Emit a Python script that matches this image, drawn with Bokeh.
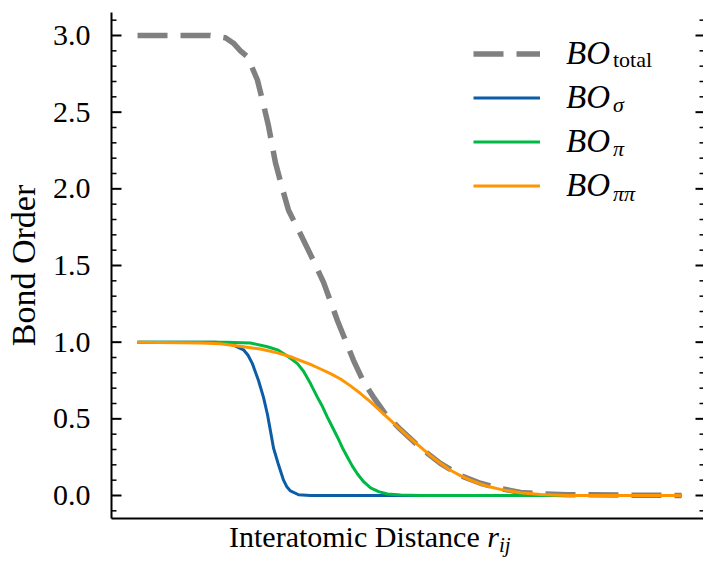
from bokeh.plotting import figure
from bokeh.models import (Range1d, FixedTicker, PrintfTickFormatter,
                          Legend, LegendItem, Label, Div)
from bokeh.layouts import column
from bokeh.embed import file_html
from bokeh.resources import INLINE

# ---- data ----
total_r = [0.500, 0.835, 0.904, 0.941, 0.973, 1.006, 1.051, 1.079, 1.102, 1.134, 1.166,
           1.194, 1.226, 1.263, 1.309, 1.355, 1.387, 1.419, 1.456, 1.493, 1.539, 1.585,
           1.640, 1.709, 1.801, 1.892, 1.984, 2.076, 2.168, 2.260, 2.352, 2.476, 3.000]
bo_total = [3.0, 3.0, 2.985, 2.95, 2.90, 2.86, 2.71, 2.55, 2.41, 2.17, 2.00,
            1.86, 1.77, 1.665, 1.53, 1.39, 1.265, 1.14, 1.01, 0.88, 0.74, 0.64,
            0.53, 0.43, 0.31, 0.21, 0.13, 0.08, 0.045, 0.02, 0.01, 0.005, 0.0]

sigma_r = [0.500, 0.858, 0.904, 0.941, 0.987, 1.008, 1.028, 1.056, 1.079, 1.097, 1.111,
           1.125, 1.148, 1.171, 1.187, 1.203, 1.240, 1.295, 3.000]
bo_sigma = [1.0, 1.0, 0.995, 0.98, 0.95, 0.915, 0.86, 0.75, 0.64, 0.53, 0.42,
            0.31, 0.20, 0.10, 0.055, 0.03, 0.005, 0.0, 0.0]

pi_r = [0.500, 0.904, 1.019, 1.097, 1.143, 1.189, 1.235, 1.263, 1.295, 1.327, 1.350,
        1.373, 1.396, 1.419, 1.442, 1.465, 1.488, 1.511, 1.539, 1.571, 1.608, 1.649,
        1.709, 1.801, 3.000]
bo_pi = [1.0, 1.0, 0.995, 0.97, 0.95, 0.91, 0.86, 0.81, 0.73, 0.64, 0.58,
         0.51, 0.445, 0.38, 0.31, 0.25, 0.19, 0.14, 0.09, 0.05, 0.025, 0.01,
         0.004, 0.0, 0.0]

pipi_r = [0.500, 0.790, 0.881, 0.987, 1.065, 1.143, 1.203, 1.249, 1.295, 1.341, 1.387,
          1.433, 1.479, 1.525, 1.571, 1.617, 1.663, 1.709, 1.755, 1.801, 1.846, 1.892,
          1.938, 1.984, 2.030, 2.076, 2.122, 2.168, 2.260, 2.352, 2.476, 3.000]
bo_pipi = [1.0, 0.995, 0.99, 0.97, 0.955, 0.93, 0.905, 0.88, 0.855, 0.825, 0.795,
           0.76, 0.715, 0.665, 0.61, 0.55, 0.49, 0.43, 0.37, 0.315, 0.26, 0.21,
           0.165, 0.13, 0.10, 0.075, 0.055, 0.04, 0.018, 0.007, 0.0, 0.0]

y_major = [0.0, 0.5, 1.0, 1.5, 2.0, 2.5, 3.0]
y_minor = [round(-0.1 + 0.1 * i, 1) for i in range(33)]

legend_subs = ["total", "σ", "π", "ππ"]

FONT = "Liberation Serif"
GRAY, BLUE, GREEN, ORANGE = "#808080", "#0C5DA5", "#00B945", "#FF9500"

XMIN, XMAX = 0.3805, 3.101
YMIN, YMAX = -0.15, 3.15
FRAME_W = 592
PX = (XMAX - XMIN) / FRAME_W          # data units per screen pixel (x)

p = figure(width=703, height=522, x_range=Range1d(XMIN, XMAX),
           y_range=Range1d(YMIN, YMAX), output_backend="svg", toolbar_location=None,
           min_border_left=111, min_border_right=0, min_border_top=12,
           min_border_bottom=4, margin=0)
p.outline_line_color = None
p.grid.visible = False
p.background_fill_color = "white"
p.border_fill_color = "white"

g_total = p.line(total_r, bo_total, line_color=GRAY, line_width=5.5, line_dash="30 13")
g_sigma = p.line(sigma_r, bo_sigma, line_color=BLUE, line_width=3)
g_pi = p.line(pi_r, bo_pi, line_color=GREEN, line_width=3)
g_pipi = p.line(pipi_r, bo_pipi, line_color=ORANGE, line_width=3)

# bottom axis: spine only
xa = p.xaxis[0]
xa.ticker = FixedTicker(ticks=[])
xa.axis_line_width = 2
xa.major_tick_line_color = None
xa.minor_tick_line_color = None

# left axis: labels + spine; inward ticks drawn below as segments
ya = p.yaxis[0]
ya.ticker = FixedTicker(ticks=y_major, minor_ticks=y_minor)
ya.formatter = PrintfTickFormatter(format="%.1f")
ya.major_tick_in = 0
ya.major_tick_out = 0
ya.minor_tick_in = 0
ya.minor_tick_out = 0
ya.axis_line_width = 2
ya.major_label_text_font = FONT
ya.major_label_text_font_size = "30px"
ya.major_label_text_color = "black"
ya.major_label_standoff = 21
ya.axis_label = "Bond Order"
ya.axis_label_text_font = FONT
ya.axis_label_text_font_size = "34px"
ya.axis_label_text_font_style = "normal"
ya.axis_label_text_color = "black"
ya.axis_label_standoff = 8

# inward tick marks (left and right sides)
def ticks(x_start, x_end, yvals, width):
    n = len(yvals)
    p.segment(x0=[x_start] * n, y0=yvals, x1=[x_end] * n, y1=yvals,
              line_color="black", line_width=width, level="overlay")

minor_only = [v for v in y_minor if v not in y_major]
ticks(XMIN, XMIN + 10 * PX, y_major, 2)
ticks(XMIN, XMIN + 5 * PX, minor_only, 1.5)
ticks(XMAX - 8 * PX, XMAX, y_major, 2)
ticks(XMAX - 4 * PX, XMAX, minor_only, 1.5)

legend = Legend(items=[LegendItem(label="BO", renderers=[g]) for g in
                       (g_total, g_sigma, g_pi, g_pipi)],
                location=(362, 314), padding=0, margin=0, border_line_color=None,
                background_fill_alpha=0, glyph_width=67, glyph_height=37,
                label_height=37, spacing=7, label_standoff=26,
                label_text_font=FONT, label_text_font_style="italic",
                label_text_font_size="33px", label_text_color="black")
p.add_layout(legend)

sub_y = [2.842, 2.552, 2.262, 1.972]
for txt, yy in zip(legend_subs, sub_y):
    style = "normal" if txt == "total" else "italic"
    p.add_layout(Label(x=2.685, y=yy, text=txt, text_font=FONT, text_font_style=style,
                       text_font_size="22px", text_baseline="alphabetic",
                       text_color="black"))

xlabel = Div(text='Interatomic Distance <i>r</i><sub style="font-size:21px;'
                  'vertical-align:-5px;line-height:0"><i>ij</i></sub>',
             width=474, height=42, margin=(0, 0, 0, 229),
             styles={"font-family": FONT, "font-size": "30px", "line-height": "30px",
                     "color": "black", "white-space": "nowrap"})

layout = column(p, xlabel, spacing=0, margin=0)
open("out.html", "w").write(file_html(layout, INLINE))
